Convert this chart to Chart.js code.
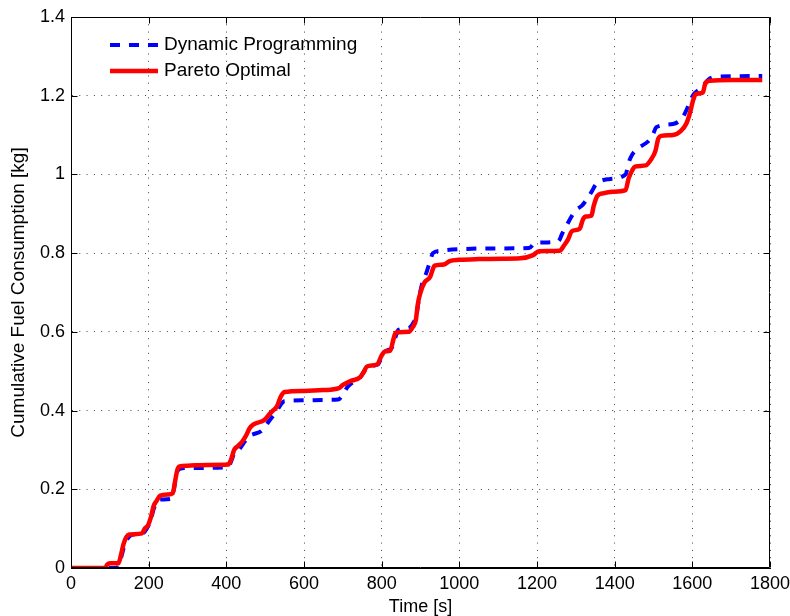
<!DOCTYPE html>
<html>
<head>
<meta charset="utf-8">
<title>Cumulative Fuel Consumption</title>
<script src="https://cdn.jsdelivr.net/npm/chart.js@4.4.1/dist/chart.umd.min.js"></script>
<style>
  html, body { margin: 0; padding: 0; background: #fff; }
  canvas { display: block; }
</style>
</head>
<body>
<canvas id="graficoFuel" width="790" height="616"></canvas>
<script>
// Dynamic Programming (blue dashed)
const tiempoDP = [0, 115, 122, 130, 140, 150, 160, 185, 195, 205, 213, 222, 230, 258, 265, 272, 280, 300, 405, 412,
  420, 432, 445, 458, 470, 490, 500, 515, 528, 540, 550, 600, 650, 688, 700, 712, 730, 745, 755, 765,
  790, 800, 812, 825, 835, 843, 870, 880, 890, 897, 905, 915, 925, 932, 950, 1000, 1100, 1180, 1195, 1255,
  1265, 1275, 1290, 1300, 1315, 1325, 1340, 1352, 1385, 1428, 1436, 1445, 1460, 1490, 1500, 1507, 1550, 1575, 1590, 1601,
  1625, 1640, 1660, 1780];
const fuelDP = [0, 0, 0.005, 0.03, 0.065, 0.08, 0.085, 0.088, 0.1, 0.12, 0.15, 0.168, 0.174, 0.176, 0.2, 0.24, 0.252, 0.254, 0.256, 0.27,
  0.29, 0.3, 0.318, 0.334, 0.34, 0.348, 0.36, 0.38, 0.396, 0.415, 0.424, 0.426, 0.427, 0.428, 0.44, 0.46, 0.475, 0.485, 0.5, 0.512,
  0.517, 0.535, 0.552, 0.558, 0.585, 0.605, 0.61, 0.62, 0.645, 0.69, 0.725, 0.75, 0.78, 0.8, 0.806, 0.81, 0.812, 0.813, 0.826, 0.83,
  0.85, 0.868, 0.895, 0.91, 0.92, 0.932, 0.955, 0.975, 0.988, 1.0, 1.03, 1.05, 1.066, 1.088, 1.105, 1.12, 1.128, 1.145, 1.175, 1.2,
  1.222, 1.24, 1.248, 1.25];

// Pareto Optimal (red solid)
const tiempoPO = [0, 88, 93, 100, 122, 128, 135, 142, 150, 183, 190, 198, 206, 213, 220, 230, 250, 262, 268, 274,
  280, 300, 350, 405, 412, 420, 430, 440, 450, 460, 470, 490, 500, 510, 520, 530, 540, 550, 600, 650,
  690, 700, 720, 745, 755, 762, 788, 800, 808, 822, 830, 836, 870, 880, 888, 893, 900, 910, 925, 932,
  936, 960, 975, 1000, 1050, 1110, 1157, 1190, 1205, 1258, 1270, 1280, 1290, 1310, 1318, 1325, 1340, 1346, 1355, 1370,
  1395, 1428, 1436, 1445, 1452, 1480, 1495, 1505, 1512, 1520, 1550, 1570, 1585, 1595, 1601, 1609, 1627, 1633, 1645, 1700, 1780];
const fuelPO = [0, 0, 0.008, 0.012, 0.012, 0.03, 0.06, 0.078, 0.085, 0.088, 0.1, 0.108, 0.13, 0.158, 0.17, 0.184, 0.187, 0.19, 0.22, 0.25,
  0.258, 0.26, 0.262, 0.263, 0.275, 0.3, 0.31, 0.32, 0.335, 0.355, 0.365, 0.372, 0.378, 0.39, 0.4, 0.41, 0.435, 0.447, 0.45, 0.452,
  0.457, 0.465, 0.475, 0.485, 0.5, 0.512, 0.517, 0.54, 0.55, 0.552, 0.58, 0.598, 0.6, 0.612, 0.63, 0.67, 0.7, 0.725, 0.74, 0.76,
  0.768, 0.771, 0.78, 0.783, 0.785, 0.786, 0.787, 0.795, 0.805, 0.806, 0.82, 0.835, 0.856, 0.862, 0.885, 0.893, 0.895, 0.92, 0.945, 0.952,
  0.956, 0.96, 0.99, 1.01, 1.02, 1.023, 1.04, 1.06, 1.09, 1.098, 1.1, 1.11, 1.13, 1.16, 1.185, 1.204, 1.208, 1.23, 1.238, 1.24, 1.24];

const ticksX = [0, 200, 400, 600, 800, 1000, 1200, 1400, 1600, 1800];
const ticksY = [0, 0.2, 0.4, 0.6, 0.8, 1, 1.2, 1.4];

const fuente = "'Liberation Sans', Arial, Helvetica, sans-serif";

// marco negro con marcas hacia adentro (estilo matlab)
const marco = {
  id: 'marco',
  afterDraw(chart) {
    const { ctx, chartArea: a, scales: { x, y } } = chart;
    const L = Math.round(a.left) + 0.5, R = Math.round(a.right) - 0.5;
    const T = Math.round(a.top) + 0.5, B = Math.round(a.bottom) - 0.5;
    ctx.save();
    ctx.strokeStyle = '#000';
    ctx.lineWidth = 1;
    ctx.setLineDash([]);
    ctx.beginPath();
    ctx.moveTo(L, T); ctx.lineTo(R, T); ctx.lineTo(R, B); ctx.lineTo(L, B); ctx.closePath();
    ticksX.forEach(v => {
      const p = Math.round(x.getPixelForValue(v)) + 0.5;
      ctx.moveTo(p, B); ctx.lineTo(p, B - 6);
      ctx.moveTo(p, T); ctx.lineTo(p, T + 6);
    });
    ticksY.forEach(v => {
      const p = Math.round(y.getPixelForValue(v)) + 0.5;
      ctx.moveTo(L, p); ctx.lineTo(L + 6, p);
      ctx.moveTo(R, p); ctx.lineTo(R - 6, p);
    });
    ctx.stroke();
    ctx.restore();
  }
};

// leyenda dentro del grafico, arriba a la izquierda
const leyenda = {
  id: 'leyenda',
  afterDraw(chart) {
    const { ctx, chartArea: a } = chart;
    const x0 = a.left + 39, y0 = a.top + 28, paso = 26, largo = 48;
    ctx.save();
    chart.data.datasets.forEach((ds, i) => {
      const yy = y0 + i * paso;
      ctx.beginPath();
      ctx.lineWidth = ds.borderWidth;
      ctx.strokeStyle = ds.borderColor;
      ctx.lineCap = 'butt';
      ctx.setLineDash(ds.borderDash || []);
      ctx.moveTo(x0, yy);
      ctx.lineTo(x0 + largo, yy);
      ctx.stroke();
      ctx.setLineDash([]);
      ctx.fillStyle = '#000';
      ctx.font = '19px ' + fuente;
      ctx.textBaseline = 'middle';
      ctx.textAlign = 'left';
      ctx.fillText(ds.label, x0 + largo + 6, yy);
    });
    ctx.restore();
  }
};

new Chart(document.getElementById('graficoFuel'), {
  type: 'line',
  data: {
    datasets: [
      {
        label: 'Dynamic Programming',
        data: tiempoDP.map((t, i) => ({ x: t, y: fuelDP[i] })),
        borderColor: '#0000ff',
        backgroundColor: '#0000ff',
        borderWidth: 4,
        borderDash: [10, 9],
        pointRadius: 0,
        cubicInterpolationMode: 'monotone',
        fill: false,
        order: 1
      },
      {
        label: 'Pareto Optimal',
        data: tiempoPO.map((t, i) => ({ x: t, y: fuelPO[i] })),
        borderColor: '#ff0000',
        backgroundColor: '#ff0000',
        borderWidth: 4.5,
        borderJoinStyle: 'round',
        pointRadius: 0,
        cubicInterpolationMode: 'monotone',
        fill: false,
        order: 0
      }
    ]
  },
  options: {
    responsive: false,
    animation: false,
    devicePixelRatio: 1,
    layout: { padding: { top: 17, right: 20, left: 0, bottom: 0 } },
    plugins: {
      legend: { display: false },
      tooltip: { enabled: false }
    },
    scales: {
      x: {
        type: 'linear',
        min: 0,
        max: 1800,
        afterBuildTicks: s => { s.ticks = ticksX.map(v => ({ value: v })); },
        afterFit: s => { s.height = 48; s.paddingRight = 0; s.paddingLeft = 0; },
        ticks: {
          autoSkip: false,
          maxRotation: 0,
          padding: 5,
          color: '#000',
          font: { family: fuente, size: 18 },
          callback: v => String(v)
        },
        grid: { color: '#444', lineWidth: 1, drawTicks: false },
        border: { display: true, color: '#000', width: 1, dash: [1, 6.3] },
        title: {
          display: true,
          text: 'Time [s]',
          color: '#000',
          font: { family: fuente, size: 18, lineHeight: 1 },
          padding: { top: 0, bottom: 0 }
        }
      },
      y: {
        type: 'linear',
        min: 0,
        max: 1.4,
        afterBuildTicks: s => { s.ticks = ticksY.map(v => ({ value: v })); },
        afterFit: s => { s.width = 71; s.paddingTop = 0; s.paddingBottom = 0; },
        ticks: {
          padding: 6,
          color: '#000',
          font: { family: fuente, size: 18 },
          callback: v => String(Number(v.toFixed(1)))
        },
        grid: { color: '#444', lineWidth: 1, drawTicks: false },
        border: { display: true, color: '#000', width: 1, dash: [1, 6.3] },
        title: {
          display: true,
          text: 'Cumulative Fuel Consumption [kg]',
          color: '#000',
          font: { family: fuente, size: 19 },
          padding: { top: 7.6, bottom: 0 }
        }
      }
    }
  },
  plugins: [marco, leyenda]
});
</script>
</body>
</html>
